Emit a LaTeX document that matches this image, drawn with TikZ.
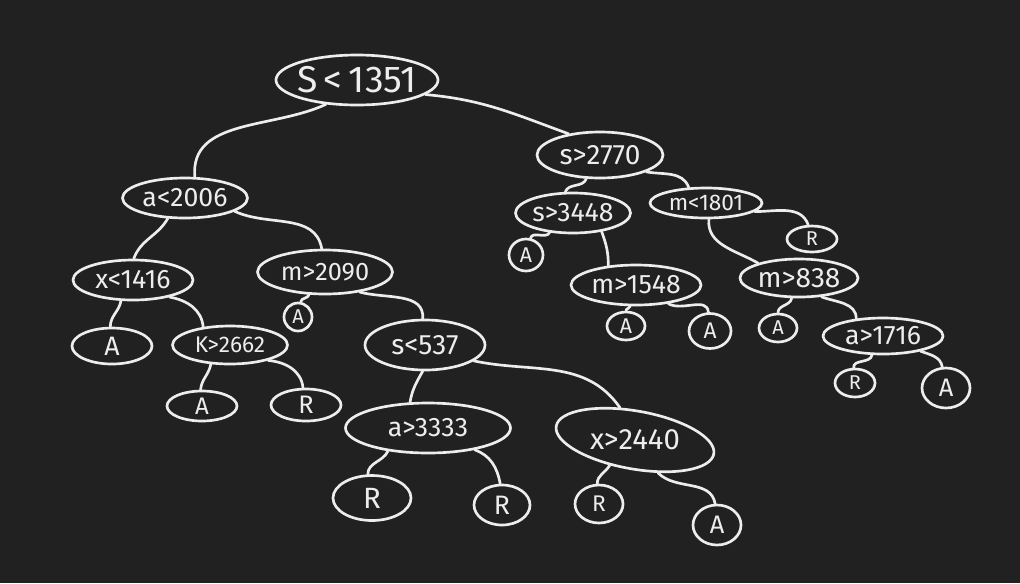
\documentclass[tikz,border=0pt]{standalone}
\usepackage{fontspec}
\setmainfont{Fira Sans}
\usetikzlibrary{shapes.geometric}
\definecolor{board}{HTML}{212121}
\definecolor{ink}{HTML}{EDEDED}
\newcommand\fsz[1]{\fontsize{#1}{#1}\selectfont}
\tikzset{
  nd/.style n args={4}{ellipse, draw=ink, line width=2pt, inner sep=0pt,
    minimum width=#1*0.75pt, minimum height=#2*0.75pt,
    label={[text=ink, font=\fsz{#3}, inner sep=0pt]center:#4}},
  lk/.style={draw=ink, line width=2pt, line cap=round}
}
\begin{document}
\begin{tikzpicture}[x=0.75pt, y=0.75pt]
\fill[board] (0,0) rectangle (1020,-583);
\useasboundingbox (0,0) rectangle (1020,-583);

% decision nodes
\node[nd={162}{50}{28}{S\,<\,1351}] (root) at (357,-80) {};
\node[nd={125}{40}{20}{a<2006}] (a2006) at (185,-198) {};
\node[nd={120}{40}{20}{x<1416}] (x1416) at (133,-280) {};
\node[nd={135}{44}{19}{m>2090}] (m2090) at (325,-272) {};
\node[nd={115}{38}{17}{K>2662}] (k2662) at (230,-345) {};
\node[nd={120}{50}{21}{s<537}] (s537) at (425,-345) {};
\node[nd={165}{50}{20}{a>3333}] (a3333) at (428,-428) {};
\node[ellipse, draw=ink, line width=2pt, inner sep=0pt, rotate=-10,
  minimum width=160*0.75pt, minimum height=58*0.75pt] (x2440) at (635,-440) {};
\node[text=ink, font=\fsz{22}, inner sep=0pt] (x2440t) at (x2440.center) {x>2440};
\node[nd={126}{46}{21}{s>2770}] (s2770) at (600,-155) {};
\node[nd={115}{40}{20}{s>3448}] (s3448) at (573,-213) {};
\node[nd={112}{30}{17}{m<1801}] (m1801) at (706,-203) {};
\node[nd={130}{40}{20}{m>1548}] (m1548) at (636,-285) {};
\node[nd={118}{38}{21}{m>838}] (m838) at (799,-278) {};
\node[nd={120}{36}{20}{a>1716}] (a1716) at (883,-336) {};

% leaves
\node[nd={80}{36}{20}{A}] (la1) at (112,-346) {};
\node[nd={28}{28}{15}{A}] (la2) at (298,-317) {};
\node[nd={70}{30}{18}{A}] (la3) at (202,-406) {};
\node[nd={70}{32}{19}{R}] (lr1) at (306,-405) {};
\node[nd={78}{45}{22}{R}] (lr2) at (372,-498) {};
\node[nd={56}{40}{20}{R}] (lr3) at (502,-505) {};
\node[nd={48}{38}{17}{R}] (lr4) at (599,-504) {};
\node[nd={48}{40}{19}{A}] (la4) at (717,-525) {};
\node[nd={34}{32}{16}{A}] (la5) at (526,-255) {};
\node[nd={50}{26}{15}{R}] (lr5) at (812,-239) {};
\node[nd={38}{28}{16}{A}] (la6) at (626,-326) {};
\node[nd={42}{35}{17}{A}] (la7) at (710,-331) {};
\node[nd={38}{28}{15}{A}] (la8) at (778,-328) {};
\node[nd={40}{28}{15}{R}] (lr6) at (855,-383) {};
\node[nd={48}{40}{19}{A}] (la9) at (946,-388) {};

% branches
\draw[lk] (root.218) to[out=-155, in=95] (a2006.65);
\draw[lk] (root.-12) to[out=-5, in=160] (s2770.146);
\draw[lk] (a2006.230) to[out=-120, in=70] (x1416.88);
\draw[lk] (a2006.-15) to[out=-25, in=100] (m2090.98);
\draw[lk] (x1416.240) to[out=-100, in=90] (la1.95);
\draw[lk] (x1416.-25) to[out=-10, in=95] (k2662.146);
\draw[lk] (m2090.235) to[out=-110, in=80] (la2.80);
\draw[lk] (m2090.-30) to[out=-15, in=85] (s537.95);
\draw[lk] (k2662.225) to[out=-100, in=85] (la3.95);
\draw[lk] (k2662.-22) to[out=-5, in=95] (lr1.100);
\draw[lk] (s537.265) to[out=-120, in=80] (a3333.125);
\draw[lk] (s537.-18) to[out=-12, in=125] (x2440.125);
\draw[lk] (a3333.210) to[out=-115, in=90] (lr2.100);
\draw[lk] (a3333.-25) to[out=-20, in=100] (lr3.95);
\draw[lk] (x2440.235) to[out=-120, in=90] (lr4.95);
\draw[lk] (x2440.-45) to[out=-45, in=100] (la4.95);
\draw[lk] (s2770.240) to[out=-110, in=70] (s3448.110);
\draw[lk] (s2770.-20) to[out=-10, in=110] (m1801.138);
\draw[lk] (s3448.220) to[out=-120, in=75] (la5.75);
\draw[lk] (s3448.-33) to[out=-70, in=90] (m1548.145);
\draw[lk] (m1801.-10) to[out=0, in=110] (lr5.105);
\draw[lk] (m1801.-80) to[out=-95, in=150] (m838.160);
\draw[lk] (m1548.255) to[out=-100, in=90] (la6.90);
\draw[lk] (m1548.-30) to[out=-30, in=95] (la7.95);
\draw[lk] (m838.250) to[out=-100, in=90] (la8.90);
\draw[lk] (m838.-40) to[out=-20, in=90] (a1716.147);
\draw[lk] (a1716.240) to[out=-100, in=95] (lr6.95);
\draw[lk] (a1716.-22) to[out=-20, in=100] (la9.100);
\end{tikzpicture}
\end{document}
